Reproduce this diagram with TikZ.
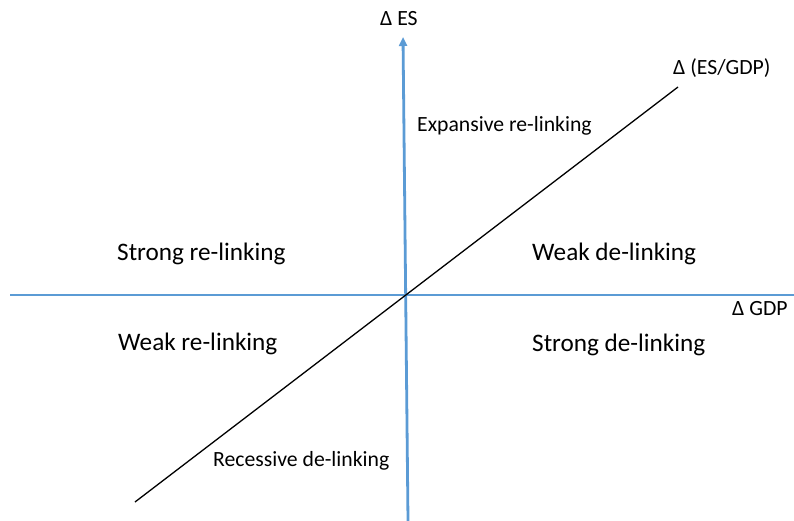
\documentclass[tikz,border=0pt]{standalone}
\usepackage{fontspec}
\setmainfont{Carlito}
\usetikzlibrary{arrows.meta}
\definecolor{axisblue}{RGB}{91,155,213}
\begin{document}
\begin{tikzpicture}[x=1pt,y=-1pt,
  axis/.style={axisblue,line width=2.8pt},
  bigl/.style={anchor=base west,inner sep=0pt,font=\fontsize{25.2}{28}\selectfont},
  smalll/.style={anchor=base west,inner sep=0pt,font=\fontsize{21.7}{24}\selectfont}]
\useasboundingbox (0,0) rectangle (794,521);
\coordinate (hL) at (10,295);
\coordinate (hR) at (794,295);
\coordinate (vB) at (408,521);
\coordinate (vT) at (403,37);
\coordinate (dB) at (135,502);
\coordinate (dT) at (678,87);
\draw[axis] (hL) -- (hR);
\draw[axis,-{Triangle[width=8pt,length=9pt]}] (vB) -- (vT);
\draw[black,line width=1.3pt] (dB) -- (dT);
\node[smalll] (les) at (380,26) {Δ ES};
\node[smalll] (lratio) at (673,75) {Δ (ES/GDP)};
\node[smalll] (lgdp) at (732,315) {Δ GDP};
\node[smalll] (exp) at (417,132) {Expansive re-linking};
\node[smalll] (rec) at (213,466) {Recessive de-linking};
\node[bigl] (srl) at (117,260) {Strong re-linking};
\node[bigl] (wdl) at (532,260) {Weak de-linking};
\node[bigl] (wrl) at (118,350) {Weak re-linking};
\node[bigl] (sdl) at (532,351) {Strong de-linking};
\end{tikzpicture}
\end{document}
